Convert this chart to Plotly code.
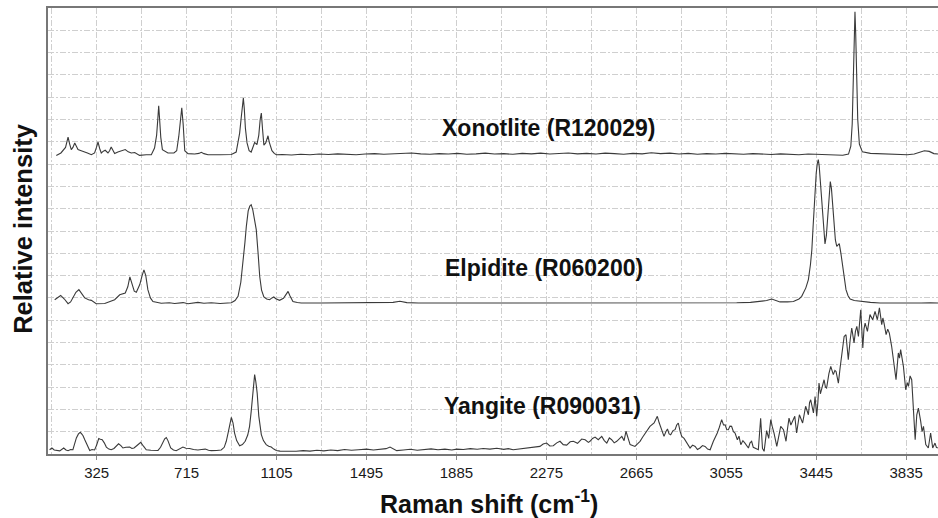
import plotly.graph_objects as go

# ---------------- data ----------------
tick_values = [325, 715, 1105, 1495, 1885, 2275, 2665, 3055, 3445, 3835]
tick_labels = ["325", "715", "1105", "1495", "1885", "2275", "2665", "3055", "3445", "3835"]

series_names = ["Xonotlite (R120029)", "Elpidite (R060200)", "Yangite (R090031)"]

xono_x = [150, 170, 190, 201, 208, 215, 222, 230, 237, 244, 258, 270, 285, 302, 316, 324, 331, 338, 345,
          354, 362, 374, 381, 388, 395, 403, 417, 428, 440, 449, 462, 475, 490, 511, 540, 562, 576, 585,
          590, 594, 598, 603, 610, 634, 660, 672, 681, 688, 694, 700, 707, 721, 750, 768, 779, 790, 808,
          860, 909, 930, 945, 953, 958, 961, 965, 970, 977, 986, 995, 1003, 1010, 1020, 1028, 1034, 1039,
          1044, 1050, 1058, 1064, 1068, 1073, 1079, 1085, 1095, 1104,
          1130, 1170, 1210, 1250, 1290, 1330, 1370, 1410, 1450, 1490, 1530, 1570, 1610, 1650, 1690,
          1730, 1770, 1810, 1850, 1890, 1930, 1970, 2010, 2050, 2090, 2130, 2170, 2210, 2250, 2290,
          2330, 2370, 2410, 2450, 2490, 2530, 2570, 2610, 2650, 2690, 2730, 2770, 2810, 2850, 2890,
          2930, 2970, 3010, 3050, 3090, 3130, 3170, 3210, 3250, 3290, 3330, 3370, 3410, 3450, 3490,
          3530, 3560, 3585, 3595, 3601, 3606, 3610, 3613, 3616, 3620, 3625, 3632, 3645, 3680, 3720,
          3760, 3800, 3840, 3870, 3895, 3914, 3935, 3955, 3973]
xono_y = [13.39, 13.5, 13.75, 14.21, 13.9, 13.65, 13.75, 13.95, 13.8, 13.65, 13.6, 13.57, 13.5, 13.42, 13.5,
          13.75, 13.99, 13.7, 13.5, 13.58, 13.62, 13.5, 13.6, 13.77, 13.6, 13.47, 13.54, 13.58, 13.62,
          13.65, 13.55, 13.5, 13.52, 13.39, 13.42, 13.42, 13.72, 14.3, 15.0, 15.62, 15.0, 14.2, 13.65,
          13.5, 13.5, 13.6, 14.24, 15.0, 15.52, 14.8, 13.6, 13.47, 13.45, 13.48, 13.53, 13.47, 13.42,
          13.42, 13.43, 13.54, 14.39, 15.2, 15.8, 15.96, 15.5, 14.6, 13.95, 13.6, 13.54, 13.75, 13.97,
          13.87, 14.3, 15.0, 15.29, 14.6, 13.85, 13.95, 14.2, 14.27, 14.0, 13.75, 13.6, 13.48, 13.42,
          13.43, 13.41, 13.44, 13.42, 13.45, 13.43, 13.46, 13.44, 13.42, 13.45, 13.47, 13.44, 13.46,
          13.45, 13.5, 13.46, 13.44, 13.47, 13.45, 13.48, 13.44, 13.46, 13.49, 13.45, 13.47, 13.44,
          13.48, 13.46, 13.49, 13.45, 13.47, 13.5, 13.46, 13.48, 13.45, 13.49, 13.47, 13.44, 13.48,
          13.46, 13.51, 13.47, 13.49, 13.45, 13.48, 13.44, 13.47, 13.45, 13.48, 13.46, 13.44, 13.47,
          13.45, 13.43, 13.46, 13.44, 13.42, 13.45, 13.43, 13.42, 13.41, 13.4, 13.45, 13.8, 14.8, 16.5,
          18.6, 19.83, 18.9, 17.0, 15.0, 13.9, 13.55, 13.48, 13.47, 13.45, 13.44, 13.42, 13.45, 13.52,
          13.6, 13.57, 13.47, 13.45, 13.46]

elp_x = [143, 155, 169, 185, 201, 212, 222, 235, 248, 260, 273, 290, 302, 323, 360, 403, 425, 449, 460,
         469, 478, 488, 497, 505, 512, 522, 530, 538, 547, 558, 569, 605, 640, 663, 700, 721, 745, 764,
         790, 822, 860, 909, 925, 938, 950, 960, 968, 974, 982, 989, 995, 1002, 1010, 1017, 1025, 1032,
         1040, 1050, 1062, 1075, 1085, 1093, 1102, 1118, 1135, 1148, 1155, 1163, 1176, 1195, 1212,
         1300, 1400, 1496, 1560, 1610, 1640, 1670, 1720, 1800, 1900, 2000, 2100, 2200, 2300, 2400,
         2500, 2600, 2700, 2800, 2900, 3000, 3100, 3160, 3201, 3230, 3252, 3270, 3288, 3320, 3346,
         3370, 3382, 3400, 3411, 3420, 3426, 3432, 3437, 3445, 3450, 3454, 3458, 3464, 3469, 3476,
         3483, 3489, 3495, 3500, 3506, 3511, 3517, 3522, 3528, 3534, 3540, 3545, 3552, 3560, 3567,
         3574, 3583, 3592, 3610, 3635, 3680, 3722, 3800, 3852, 3900, 3940, 3973]
elp_y = [6.92, 7.02, 7.11, 6.95, 6.74, 6.82, 7.0, 7.25, 7.37, 7.2, 7.0, 6.92, 6.89, 6.74, 6.75, 6.92,
         7.14, 7.22, 7.5, 7.94, 7.6, 7.3, 7.25, 7.4, 7.6, 8.0, 8.26, 8.0, 7.37, 7.0, 6.84, 6.76, 6.78,
         6.75, 6.79, 6.74, 6.77, 6.8, 6.76, 6.78, 6.75, 6.78, 6.88, 7.07, 7.7, 8.57, 9.5, 10.21, 10.9,
         11.12, 11.18, 10.95, 10.5, 10.06, 9.0, 7.96, 7.35, 7.04, 6.95, 6.92, 7.0, 7.04, 6.96, 6.89,
         6.98, 7.2, 7.29, 7.1, 6.84, 6.79, 6.77, 6.77, 6.78, 6.8, 6.78, 6.8, 6.85, 6.79, 6.77, 6.77,
         6.76, 6.77, 6.76, 6.77, 6.76, 6.77, 6.77, 6.76, 6.77, 6.76, 6.77, 6.78, 6.78, 6.8, 6.84, 6.88,
         6.95, 6.88, 6.82, 6.82, 6.84, 6.95, 7.07, 7.45, 7.82, 8.5, 9.16, 10.3, 11.4, 12.6, 13.05, 13.2,
         12.9, 12.0, 11.1, 10.0, 9.42, 9.8, 10.65, 11.6, 12.22, 11.9, 10.9, 10.21, 9.6, 9.31, 9.4, 9.43,
         9.0, 8.41, 7.8, 7.37, 7.1, 6.95, 6.88, 6.84, 6.8, 6.77, 6.76, 6.75, 6.77, 6.78, 6.77]

yang_x = [121, 131, 141, 150, 165, 182, 192, 201, 212, 222, 230, 237, 246, 254, 260, 266, 273, 280, 288,
          295, 305, 316, 325, 334, 341, 349, 358, 367, 378, 388, 400, 410, 420, 430, 439, 452, 468, 478,
          487, 500, 509, 516, 528, 540, 560, 575, 591, 602, 612, 620, 627, 634, 646, 658, 670, 685, 699,
          712, 728, 745, 764, 780, 796, 810, 822, 845, 865, 878, 887, 895, 903, 909, 916, 923, 932, 945,
          957, 969, 980, 988, 995, 1000, 1005, 1010, 1015, 1021, 1028, 1034, 1039, 1048, 1060, 1071,
          1082, 1093, 1104, 1120, 1140, 1160,
          1190, 1220, 1250, 1280, 1310, 1340, 1370, 1400, 1430, 1460, 1495, 1525, 1555, 1580, 1597,
          1626, 1655, 1685, 1715, 1745, 1775, 1805, 1835, 1865, 1886, 1915, 1945, 1975, 2001, 2030,
          2060, 2090, 2110, 2131, 2160, 2190, 2220,
          2247, 2261, 2276, 2290, 2305, 2320, 2334, 2348, 2363, 2378, 2392, 2410, 2428, 2443, 2457,
          2464, 2475, 2486, 2500, 2515, 2526, 2537, 2548, 2558, 2569, 2580, 2591, 2602, 2612, 2620,
          2638, 2659, 2670, 2681, 2692, 2703, 2714, 2724, 2742, 2756, 2764, 2771, 2785, 2793, 2800,
          2807, 2814, 2824, 2833, 2840, 2847, 2855, 2862, 2872, 2881, 2898, 2909, 2920, 2930, 2941,
          2952, 2963, 2974, 2985, 2999, 3008, 3016, 3025, 3035, 3043, 3050, 3057, 3064, 3071, 3078,
          3086, 3093, 3103, 3110, 3118, 3127, 3136, 3144, 3151, 3158, 3165, 3172, 3180, 3194, 3204,
          3212, 3219, 3230, 3239, 3248, 3255, 3262, 3274, 3283, 3291, 3303, 3314, 3320, 3327, 3335,
          3342, 3352, 3360, 3366, 3372, 3386, 3393, 3399, 3411, 3416, 3421, 3433, 3440, 3447, 3452,
          3457, 3463, 3469, 3479, 3485, 3490, 3500, 3508, 3519, 3526, 3531, 3541, 3549, 3556, 3566,
          3574, 3584, 3592, 3599, 3609, 3615, 3621, 3628, 3638, 3647, 3652, 3657, 3667, 3673, 3678,
          3690, 3695, 3700, 3710, 3715, 3719, 3729, 3734, 3739, 3748, 3755, 3762, 3772, 3780, 3786,
          3791, 3801, 3806, 3811, 3823, 3833, 3840, 3845, 3852, 3859, 3866, 3874, 3881, 3888, 3898,
          3904, 3910, 3920, 3931, 3941, 3950, 3960, 3966, 3972]
yang_y = [0.19, 0.27, 0.18, 0.16, 0.14, 0.27, 0.18, 0.15, 0.2, 0.19, 0.45, 0.72, 0.9, 0.97, 0.9, 0.82,
          0.65, 0.49, 0.3, 0.16, 0.2, 0.18, 0.4, 0.69, 0.66, 0.64, 0.5, 0.31, 0.22, 0.19, 0.25, 0.38,
          0.46, 0.38, 0.27, 0.3, 0.31, 0.25, 0.27, 0.38, 0.48, 0.52, 0.35, 0.19, 0.17, 0.15, 0.16, 0.3,
          0.49, 0.68, 0.74, 0.6, 0.27, 0.18, 0.15, 0.22, 0.31, 0.26, 0.25, 0.2, 0.18, 0.2, 0.22, 0.17,
          0.15, 0.16, 0.18, 0.3, 0.57, 0.95, 1.4, 1.64, 1.4, 0.94, 0.6, 0.37, 0.42, 0.57, 0.85, 1.24,
          1.9, 2.58, 3.2, 3.56, 3.25, 2.73, 1.7, 1.15, 0.87, 0.6, 0.42, 0.35, 0.31, 0.22, 0.16, 0.13,
          0.12, 0.14,
          0.12, 0.15, 0.13, 0.17, 0.14, 0.18, 0.15, 0.2, 0.17, 0.19, 0.22, 0.18, 0.2, 0.24, 0.31, 0.15,
          0.18, 0.21, 0.17, 0.2, 0.23, 0.19, 0.22, 0.18, 0.22, 0.2, 0.24, 0.21, 0.25, 0.22, 0.26, 0.21,
          0.24, 0.19, 0.23, 0.26, 0.3,
          0.34, 0.45, 0.49, 0.36, 0.37, 0.5, 0.57, 0.42, 0.4, 0.55, 0.57, 0.48, 0.67, 0.64, 0.52,
          0.57, 0.7, 0.76, 0.64, 0.79, 0.6, 0.49, 0.72, 0.64, 0.5, 0.57, 0.7, 0.79, 0.6, 1.02,
          0.42, 0.34, 0.45, 0.57, 0.75, 0.94, 1.1, 1.24, 1.39, 1.69, 1.4, 1.16, 0.79, 1.0, 1.12,
          0.9, 0.86, 1.05, 1.09, 1.3, 1.39, 1.0, 0.79, 0.7, 0.57, 0.27, 0.4, 0.34, 0.2, 0.27,
          0.38, 0.34, 0.22, 0.19, 0.57, 0.75, 0.94, 1.2, 1.54, 1.3, 1.31, 1.1, 1.09, 1.25, 1.24,
          1.0, 0.94, 0.64, 0.8, 0.42, 0.6, 0.49, 0.35, 0.27, 0.5, 0.57, 0.3, 0.27, 0.19, 1.6,
          0.25, 0.12, 1.05, 0.7, 1.54, 1.2, 0.94, 0.34, 0.9, 1.24, 1.09, 0.57, 1.1, 1.61, 1.3,
          1.46, 1.69, 0.94, 1.3, 1.76, 1.39, 1.9, 2.14, 1.76, 2.3, 2.43, 1.84, 2.58, 1.69, 2.3,
          3.18, 2.7, 2.96, 3.33, 3.0, 2.96, 3.6, 3.93, 3.56, 3.75, 3.70, 3.18, 3.9, 4.38, 5.27,
          5.35, 4.23, 5.1, 5.65, 4.98, 5.5, 5.72, 5.27, 6.47, 4.75, 5.6, 5.87, 5.50, 6.0, 6.25,
          6.02, 6.3, 6.40, 6.02, 6.45, 6.55, 5.80, 6.1, 5.87, 5.35, 5.6, 5.42, 4.83, 4.23, 3.9,
          3.33, 4.53, 4.3, 4.68, 3.93, 2.88, 3.2, 3.03, 3.5, 3.33, 2.14, 0.64, 1.76, 2.06, 1.46,
          1.0, 1.24, 0.42, 0.27, 0.94, 0.27, 0.49, 0.3, 0.27]

# ---------------- figure ----------------
FONT = "Liberation Sans, Arial, Helvetica, sans-serif"
LINE = "#3a3a3a"
GRID = "#cfcfcf"

fig = go.Figure()
for xs, ys, nm in [(xono_x, xono_y, series_names[0]),
                   (elp_x, elp_y, series_names[1]),
                   (yang_x, yang_y, series_names[2])]:
    fig.add_trace(go.Scatter(x=xs, y=ys, mode="lines", name=nm,
                             line=dict(color=LINE, width=1.1), showlegend=False))

label_pos = [(2282, 14.63), (2265, 8.35), (2256, 2.17)]
for (lx, ly), nm in zip(label_pos, series_names):
    fig.add_annotation(x=lx, y=ly, text=nm, showarrow=False, xanchor="center", yanchor="middle",
                       font=dict(family=FONT, size=23, color="#111", weight="bold"))

fig.add_annotation(xref="paper", yref="paper", x=-0.028, y=0.505, text="Relative intensity",
                   textangle=-90, showarrow=False, xanchor="center", yanchor="middle",
                   font=dict(family=FONT, size=25.5, color="#111", weight="bold"))
fig.add_annotation(xref="paper", yref="paper", x=0.495, y=-0.108, text="Raman shift (cm<sup>-1</sup>)",
                   showarrow=False, xanchor="center", yanchor="middle",
                   font=dict(family=FONT, size=25, color="#111", weight="bold"))

fig.update_layout(
    width=938, height=518,
    margin=dict(l=48, r=0, t=8, b=64),
    paper_bgcolor="white", plot_bgcolor="white",
    xaxis=dict(range=[114, 3973], tickvals=tick_values, ticktext=tick_labels,
               showgrid=True, gridcolor=GRID, griddash="6px,2px,2px,2px", gridwidth=1,
               minor=dict(tick0=130, dtick=195, showgrid=True, gridcolor=GRID,
                          griddash="6px,2px,2px,2px", gridwidth=1),
               showline=True, linecolor="#777", linewidth=1.5, mirror=True,
               ticks="outside", ticklen=4, tickcolor="#888", tickwidth=1,
               tickfont=dict(family=FONT, size=15, color="#1a1a1a"),
               zeroline=False),
    yaxis=dict(range=[0, 20], dtick=1, showticklabels=False, ticks="",
               showgrid=True, gridcolor=GRID, griddash="6px,2px,2px,2px", gridwidth=1,
               showline=True, linecolor="#777", linewidth=1.5, zeroline=False),
)

fig.write_html("out.html", config={"displayModeBar": False},
               post_script="document.body.style.margin='0px';document.body.style.overflow='hidden';")
